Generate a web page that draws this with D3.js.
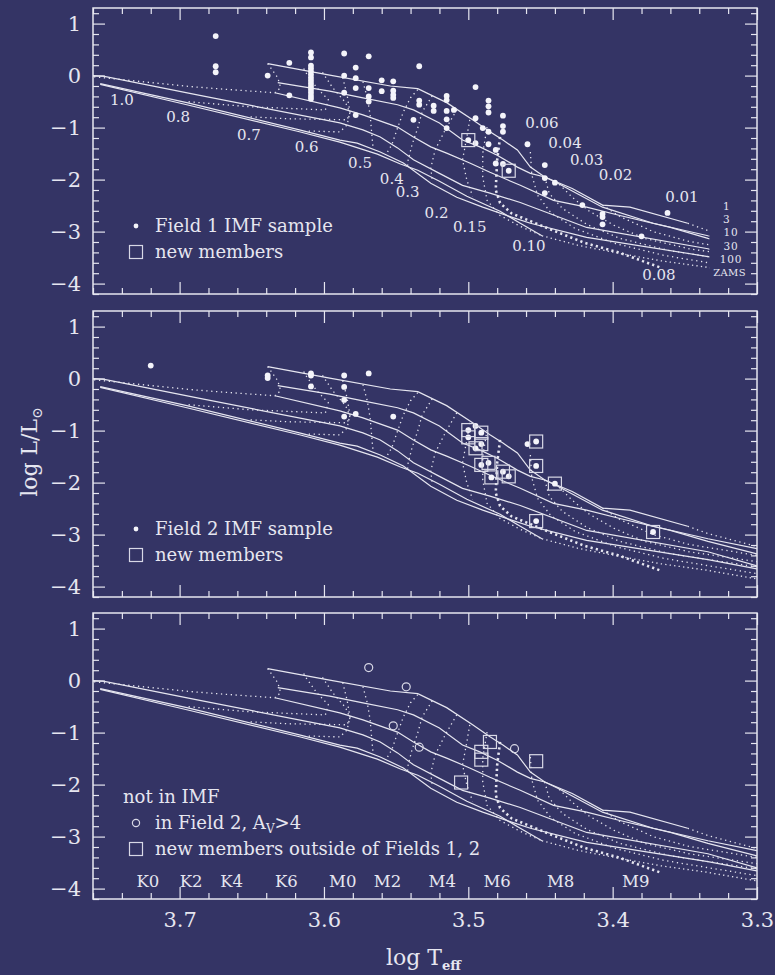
<!DOCTYPE html>
<html><head><meta charset="utf-8">
<script src="https://cdn.jsdelivr.net/npm/d3@7"></script>
<style>
body{margin:0;background:#343465;}
svg{display:block}
text{font-family:"DejaVu Serif","Liberation Serif",serif;fill:#e6e6f0}
</style></head><body>
<svg id="chart" width="775" height="975"></svg>
<script>
// ---- model isochrones, [log Teff, log L/Lsun] ----
const iso1Myr = [[3.639,0.23],[3.596,0.01],[3.554,-0.20],[3.535,-0.25],[3.515,-0.52],[3.497,-0.85],[3.485,-1.08],[3.476,-1.24],[3.466,-1.43],[3.457,-1.76],[3.447,-1.95],[3.428,-2.17],[3.407,-2.49],[3.388,-2.53],[3.348,-2.84]];
const iso3Myr = [[3.632,-0.135],[3.596,-0.30],[3.573,-0.43],[3.549,-0.56],[3.538,-0.66],[3.520,-0.91],[3.504,-1.24],[3.492,-1.37],[3.480,-1.53],[3.466,-1.76],[3.457,-1.88],[3.447,-1.95],[3.438,-2.07],[3.407,-2.53],[3.372,-2.84],[3.334,-3.08],[3.300,-3.27]];
const iso10Myr = [[3.634,-0.33],[3.589,-0.62],[3.573,-0.755],[3.549,-0.99],[3.538,-1.18],[3.526,-1.37],[3.515,-1.49],[3.499,-1.68],[3.485,-1.86],[3.464,-2.11],[3.441,-2.40],[3.418,-2.53],[3.395,-2.69],[3.360,-2.92],[3.334,-3.13],[3.300,-3.37]];
const iso30Myr = [[3.760,0.0],[3.753,-0.01],[3.686,-0.38],[3.589,-0.91],[3.573,-1.044],[3.561,-1.18],[3.549,-1.39],[3.538,-1.62],[3.520,-1.88],[3.504,-2.11],[3.485,-2.26],[3.464,-2.44],[3.418,-2.92],[3.334,-3.33],[3.300,-3.60]];
const iso100Myr = [[3.755,-0.155],[3.695,-0.52],[3.617,-1.044],[3.589,-1.24],[3.577,-1.30],[3.561,-1.47],[3.545,-1.68],[3.526,-2.07],[3.508,-2.34],[3.490,-2.53],[3.469,-2.73],[3.457,-2.84],[3.418,-3.11],[3.334,-3.48],[3.300,-3.66]];
const zams = [[3.755,-0.17],[3.695,-0.56],[3.617,-1.08],[3.589,-1.28],[3.563,-1.51],[3.547,-1.70],[3.535,-1.82],[3.520,-2.03],[3.501,-2.32],[3.478,-2.61],[3.464,-2.84],[3.449,-3.08]];
const zamsExtension = [[3.449,-3.08],[3.423,-3.27],[3.395,-3.42],[3.367,-3.56],[3.336,-3.68],[3.300,-3.85]];
const isochroneNames = ["1","3","10","30","100","ZAMS"];
const isochroneLabelT = [3.321,3.321,3.318,3.318,3.318,3.319];
const isochroneLabelL = [-2.517,-2.769,-3.021,-3.273,-3.525,-3.777];

// ---- evolutionary tracks, [log Teff, log L/Lsun] ----
const track100 = [[3.639,0.23],[3.636,0.116],[3.632,-0.04],[3.630,-0.232],[3.634,-0.33],[3.665,-0.27],[3.693,-0.21],[3.753,-0.04],[3.760,-0.02]];
const track080 = [[3.614,0.135],[3.613,0.077],[3.605,-0.232],[3.597,-0.464],[3.599,-0.66],[3.651,-0.60],[3.695,-0.50]];
const track070 = [[3.601,0.06],[3.594,-0.232],[3.585,-0.52],[3.582,-0.715],[3.584,-0.85],[3.624,-0.83],[3.653,-0.79]];
const track060 = [[3.587,-0.04],[3.584,-0.37],[3.582,-0.70],[3.584,-0.95],[3.589,-1.083],[3.613,-1.064]];
const track050 = [[3.573,-0.116],[3.570,-0.425],[3.568,-0.755],[3.567,-1.083],[3.566,-1.39]];
const track040 = [[3.535,-0.27],[3.540,-0.425],[3.545,-0.70],[3.549,-1.006],[3.553,-1.33],[3.556,-1.47]];
const track030 = [[3.525,-0.39],[3.532,-0.70],[3.535,-1.006],[3.539,-1.33],[3.542,-1.66],[3.542,-1.76]];
const track020 = [[3.508,-0.66],[3.516,-1.044],[3.523,-1.43],[3.526,-1.78],[3.525,-2.01]];
const track015 = [[3.499,-0.85],[3.501,-1.18],[3.504,-1.62],[3.501,-2.01],[3.497,-2.32]];
const track010 = [[3.487,-0.99],[3.490,-1.49],[3.490,-1.95],[3.487,-2.40],[3.478,-2.69],[3.464,-2.90],[3.449,-3.08]];
const track008 = [[3.478,-1.18],[3.480,-1.62],[3.481,-2.20],[3.478,-2.45],[3.470,-2.65],[3.442,-2.97],[3.419,-3.22],[3.396,-3.40],[3.366,-3.70]];
const track006 = [[3.457,-1.47],[3.456,-1.91],[3.452,-2.30],[3.443,-2.63],[3.426,-2.94],[3.398,-3.23],[3.364,-3.46],[3.329,-3.62],[3.300,-3.75]];
const track004 = [[3.447,-1.95],[3.444,-2.26],[3.435,-2.55],[3.418,-2.86],[3.395,-3.13],[3.360,-3.37],[3.300,-3.62]];
const track003 = [[3.437,-2.09],[3.428,-2.34],[3.416,-2.61],[3.399,-2.88],[3.378,-3.13],[3.347,-3.33],[3.300,-3.52]];
const track002 = [[3.407,-2.49],[3.395,-2.71],[3.372,-3.00],[3.347,-3.19],[3.300,-3.40]];
const track001 = [[3.348,-2.84],[3.334,-2.98],[3.300,-3.23]];
const massNames = ["1.0","0.8","0.7","0.6","0.5","0.4","0.3","0.2","0.15","0.10","0.08","0.06","0.04","0.03","0.02","0.01"];
const massLabelT = [3.740,3.701,3.652,3.612,3.575,3.553,3.542,3.522,3.499,3.458,3.368,3.449,3.433,3.418,3.398,3.352];
const massLabelL = [-0.46,-0.79,-1.14,-1.37,-1.67,-1.98,-2.24,-2.63,-2.90,-3.27,-3.83,-0.91,-1.29,-1.62,-1.90,-2.33];

// ---- Field 1 IMF sample ----
const field1T = [3.675,3.675,3.675,3.639,3.624,3.624,
  3.609,3.609,3.609,3.609,3.609,3.609,3.609,3.609,3.609,3.609,3.609,3.609,3.609,3.609,
  3.586,3.586,3.586,3.578,3.578,3.578,3.578,3.569,3.569,3.569,3.569,3.560,3.560,
  3.552,3.552,3.552,3.552,3.538,3.534,3.534,3.534,3.524,3.524,3.515,3.515,3.515,3.515,3.515,3.510,
  3.500,3.495,3.495,3.495,3.490,3.486,3.486,3.486,3.486,3.486,3.481,3.481,3.476,3.476,3.476,3.476,3.472,
  3.459,3.447,3.447,3.440,3.447,3.421,3.407,3.407,3.407,3.380,3.362];
const field1L = [0.76,0.18,0.064,0.0,0.245,-0.38,
  0.445,0.35,0.19,0.135,0.077,0.02,-0.04,-0.097,-0.155,-0.213,-0.27,-0.33,-0.39,-0.445,
  0.425,0.0,-0.33,0.155,-0.05,-0.24,-0.76,0.37,-0.24,-0.40,-0.50,-0.09,-0.30,
  -0.11,-0.29,-0.37,-0.43,-0.85,0.18,-0.48,-0.56,-0.58,-0.68,-0.39,-0.47,-0.68,-0.84,-1.01,-0.66,
  -1.24,-0.22,-0.82,-1.30,-1.01,-0.48,-0.59,-0.71,-1.08,-1.32,-1.43,-1.69,-0.77,-0.97,-1.08,-1.70,-1.83,
  -1.32,-1.72,-1.97,-2.06,-2.26,-2.49,-2.66,-2.72,-2.86,-3.09,-2.64];
const field1NewT = [3.500,3.472];
const field1NewL = [-1.24,-1.83];

// ---- Field 2 IMF sample ----
const field2T = [3.720,3.639,3.639,3.609,3.609,3.609,3.586,3.586,3.586,3.586,3.578,3.569,3.552,
  3.500,3.500,3.491,3.491,3.495,3.491,3.486,3.484,3.476,3.472,3.453,3.459,3.453,3.440,3.453,3.372,3.495];
const field2L = [0.25,0.06,0.01,0.10,0.06,-0.15,0.06,-0.16,-0.41,-0.73,-0.68,0.10,-0.73,
  -0.99,-1.13,-1.04,-1.26,-1.34,-1.66,-1.62,-1.90,-1.79,-1.88,-1.21,-1.26,-1.68,-2.02,-2.74,-2.95,-0.91];
const field2NewT = [3.500,3.500,3.491,3.491,3.495,3.491,3.486,3.484,3.476,3.472,3.453,3.453,3.440,3.453,3.372];
const field2NewL = [-0.99,-1.13,-1.04,-1.26,-1.34,-1.66,-1.62,-1.90,-1.79,-1.88,-1.21,-1.68,-2.02,-2.74,-2.95];

// ---- not in IMF ----
const highAvT = [3.569,3.543,3.552,3.534,3.468];
const highAvL = [0.25,-0.12,-0.87,-1.28,-1.31];
const outsideT = [3.485,3.491,3.491,3.453,3.505];
const outsideL = [-1.18,-1.37,-1.52,-1.55,-1.96];

// ---- axes ----
const xTickValues = [3.7,3.6,3.5,3.4,3.3];
const yTickValues = [1,0,-1,-2,-3,-4];
const spectralTypes = ["K0","K2","K4","K6","M0","M2","M4","M6","M8","M9"];
const spectralTypeT = [3.722,3.692,3.664,3.626,3.587,3.556,3.518,3.480,3.436,3.384];

// ---------------------------------------------------------------
const ink = "#e6e6f0";
const svg = d3.select("#chart");
const W = 775, H = 975;
svg.append("rect").attr("width", W).attr("height", H).attr("fill", "#343465");

const x = d3.scaleLinear().domain([3.76, 3.30]).range([93, 757]);
const panelTops = [8, 311, 613];
const panelH = 286;

const zip = (a, b) => a.map((v, i) => [v, b[i]]);

const isochrones = [iso1Myr, iso3Myr, iso10Myr, iso30Myr, iso100Myr, zams];
const tracks = [track100, track080, track070, track060, track050, track040, track030, track020,
  track015, track010, track008, track006, track004, track003, track002, track001];

panelTops.forEach((top, p) => {
  const y = d3.scaleLinear().domain([-4.2, 1.3]).range([top + panelH, top]);
  const g = svg.append("g");
  const line = d3.line().x(d => x(d[0])).y(d => y(d[1]));

  // curves are clipped to the frame; the first panel leaves room for the age labels
  const clipId = "clip" + p;
  const clipRight = p === 0 ? x(3.333) : x(3.30);
  svg.append("clipPath").attr("id", clipId).append("rect")
    .attr("x", x(3.76)).attr("y", top).attr("width", clipRight - x(3.76)).attr("height", panelH);
  const curves = g.append("g").attr("clip-path", `url(#${clipId})`).attr("fill", "none");

  isochrones.forEach(pts => {
    curves.append("path").attr("d", line(pts)).attr("stroke", ink).attr("stroke-width", 1.2);
  });
  curves.append("path").attr("d", line(zamsExtension)).attr("stroke", ink)
    .attr("stroke-width", 1.3).attr("stroke-dasharray", "1.3,3.2");
  tracks.forEach((t, i) => {
    const bold = massNames[i] === "0.08";
    curves.append("path").attr("d", line(t)).attr("stroke", ink)
      .attr("stroke-width", bold ? 2.6 : 1.3)
      .attr("stroke-dasharray", bold ? "2.2,3.2" : "1.3,3.6");
  });

  // frame and ticks on all four sides
  const axes = g.append("g").attr("color", ink);
  const mkX = (axis, size, vals) => axis(x).tickValues(vals).tickSizeInner(-size).tickSizeOuter(0);
  const mkY = (axis, size, vals) => axis(y).tickValues(vals).tickSizeInner(-size).tickSizeOuter(0);
  const xMinor = d3.range(0, 24).map(i => 3.76 - 0.02 * i).filter(v => Math.abs(v * 10 - Math.round(v * 10)) > 1e-6);
  const yMinor = d3.range(-21, 7).map(i => i / 5).filter(v => Math.abs(v - Math.round(v)) > 1e-6);

  const xb = axes.append("g").attr("transform", `translate(0,${top + panelH})`)
    .call(mkX(d3.axisBottom, 12, xTickValues).tickPadding(13).tickFormat(d3.format(".1f")));
  axes.append("g").attr("transform", `translate(0,${top + panelH})`).call(mkX(d3.axisBottom, 6, xMinor).tickFormat(""));
  axes.append("g").attr("transform", `translate(0,${top})`).call(mkX(d3.axisTop, 12, xTickValues).tickFormat(""));
  axes.append("g").attr("transform", `translate(0,${top})`).call(mkX(d3.axisTop, 6, xMinor).tickFormat(""));
  axes.append("g").attr("transform", `translate(${x(3.76)},0)`)
    .call(mkY(d3.axisLeft, 12, yTickValues).tickPadding(12).tickFormat(d3.format("d")));
  axes.append("g").attr("transform", `translate(${x(3.76)},0)`).call(mkY(d3.axisLeft, 6, yMinor).tickFormat(""));
  axes.append("g").attr("transform", `translate(${x(3.30)},0)`).call(mkY(d3.axisRight, 12, yTickValues).tickFormat(""));
  axes.append("g").attr("transform", `translate(${x(3.30)},0)`).call(mkY(d3.axisRight, 6, yMinor).tickFormat(""));
  axes.selectAll(".domain").remove();
  axes.selectAll(".tick line").attr("stroke-width", 1.2);
  axes.selectAll(".tick text").attr("font-size", 21).attr("fill", ink)
    .attr("font-family", '"DejaVu Serif","Liberation Serif",serif');
  if (p !== 2) xb.selectAll("text").remove();
  g.append("rect").attr("x", x(3.76)).attr("y", top).attr("width", x(3.30) - x(3.76)).attr("height", panelH)
    .attr("fill", "none").attr("stroke", ink).attr("stroke-width", 1.5);

  const marks = g.append("g");
  const dot = (T, L) => marks.append("circle").attr("cx", x(T)).attr("cy", y(L)).attr("r", 2.9).attr("fill", "#f4f4fa");
  const square = (T, L) => marks.append("rect").attr("x", x(T) - 6.5).attr("y", y(L) - 6.5)
    .attr("width", 13).attr("height", 13).attr("fill", "none").attr("stroke", "#d8d8e6").attr("stroke-width", 1.2);
  const ring = (T, L) => marks.append("circle").attr("cx", x(T)).attr("cy", y(L)).attr("r", 4)
    .attr("fill", "none").attr("stroke", "#d8d8e6").attr("stroke-width", 1.2);

  const legend = g.append("g").attr("font-size", 18);
  if (p === 0) {
    zip(field1T, field1L).forEach(d => dot(d[0], d[1]));
    zip(field1NewT, field1NewL).forEach(d => square(d[0], d[1]));
    massNames.forEach((m, i) => {
      g.append("text").attr("x", x(massLabelT[i])).attr("y", y(massLabelL[i])).attr("dy", "0.36em")
        .attr("text-anchor", "middle").attr("font-size", 15).text(m);
    });
    isochroneNames.forEach((n, i) => {
      g.append("text").attr("x", x(isochroneLabelT[i])).attr("y", y(isochroneLabelL[i])).attr("dy", "0.36em")
        .attr("text-anchor", "middle").attr("font-size", n === "ZAMS" ? 10 : 10.5)
        .attr("letter-spacing", n === "ZAMS" ? 0.3 : 0.8).text(n);
    });
  }
  if (p === 1) {
    zip(field2T, field2L).forEach(d => dot(d[0], d[1]));
    zip(field2NewT, field2NewL).forEach(d => square(d[0], d[1]));
  }
  if (p === 2) {
    zip(highAvT, highAvL).forEach(d => ring(d[0], d[1]));
    zip(outsideT, outsideL).forEach(d => square(d[0], d[1]));
    spectralTypes.forEach((s, i) => {
      g.append("text").attr("x", x(spectralTypeT[i])).attr("y", top + panelH - 12)
        .attr("text-anchor", "middle").attr("font-size", 16.5).text(s);
    });
  }

  // legends
  const lx = 136, tx = 155;
  if (p < 2) {
    const ly1 = top + 218, ly2 = top + 244;
    legend.append("circle").attr("cx", lx).attr("cy", ly1).attr("r", 2.4).attr("fill", "#f4f4fa");
    legend.append("text").attr("x", tx).attr("y", ly1 + 6).text(p === 0 ? "Field 1 IMF sample" : "Field 2 IMF sample");
    legend.append("rect").attr("x", lx - 6.5).attr("y", ly2 - 6.5).attr("width", 13).attr("height", 13)
      .attr("fill", "none").attr("stroke", "#d8d8e6").attr("stroke-width", 1.2);
    legend.append("text").attr("x", tx).attr("y", ly2 + 6).text("new members");
  } else {
    legend.append("text").attr("x", 123).attr("y", top + 190).text("not in IMF");
    const ly1 = top + 210, ly2 = top + 236;
    legend.append("circle").attr("cx", lx).attr("cy", ly1).attr("r", 3.6)
      .attr("fill", "none").attr("stroke", "#d8d8e6").attr("stroke-width", 1.2);
    const t1 = legend.append("text").attr("x", tx).attr("y", ly1 + 6);
    t1.append("tspan").text("in Field 2, A");
    t1.append("tspan").attr("font-size", 12).attr("dy", 4).text("V");
    t1.append("tspan").attr("dy", -4).text(">4");
    legend.append("rect").attr("x", lx - 6.5).attr("y", ly2 - 6.5).attr("width", 13).attr("height", 13)
      .attr("fill", "none").attr("stroke", "#d8d8e6").attr("stroke-width", 1.2);
    legend.append("text").attr("x", tx).attr("y", ly2 + 6).text("new members outside of Fields 1, 2");
  }
});

// axis titles
const yt = svg.append("text").attr("transform", "translate(37,452) rotate(-90)")
  .attr("text-anchor", "middle").attr("font-size", 22);
yt.append("tspan").text("log L/L");
yt.append("tspan").attr("font-size", 14).attr("dy", 5).text("\u2299");
const xt = svg.append("text").attr("x", 386).attr("y", 965).attr("font-size", 22);
xt.append("tspan").text("log T");
xt.append("tspan").attr("font-size", 13).attr("dy", 5).attr("font-weight", "bold").text("eff");
</script>
</body></html>
